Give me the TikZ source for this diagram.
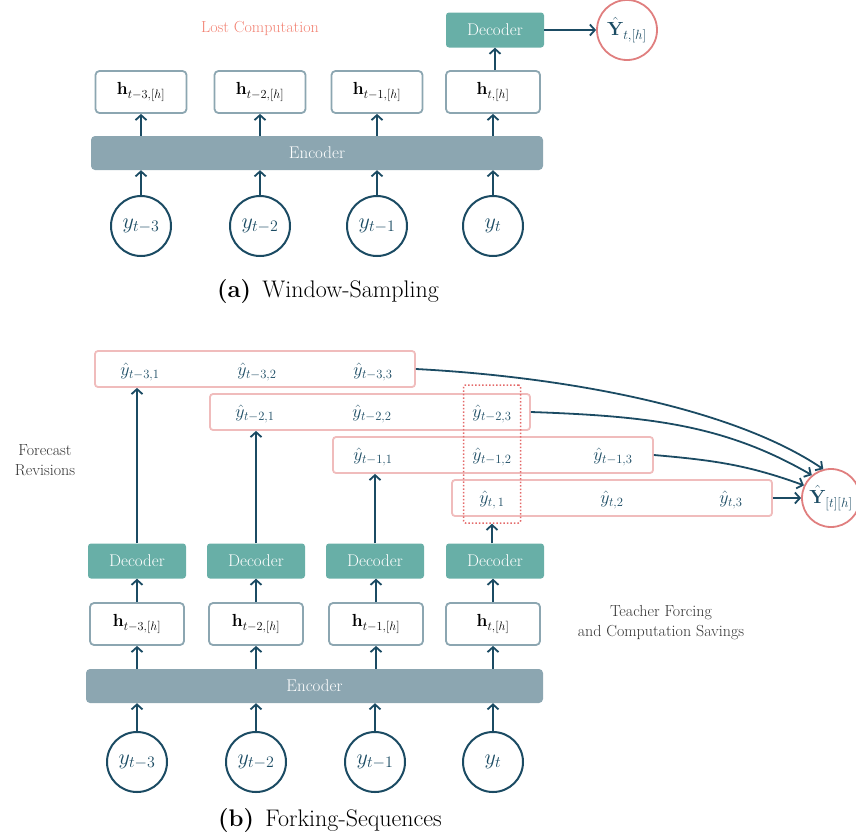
\RequirePackage{fix-cm}
\documentclass[tikz,border=0pt]{standalone}
\usetikzlibrary{arrows.meta,calc}
\DeclareMathSizes{22}{22}{16}{12}
\definecolor{dblue}{HTML}{1B4B63}
\definecolor{tealc}{HTML}{68AFA7}
\definecolor{gblue}{HTML}{8CA6B1}
\definecolor{salmon}{HTML}{F28374}
\definecolor{pinkb}{HTML}{F0BCBC}
\definecolor{redc}{HTML}{E07F7F}
\definecolor{dotred}{HTML}{E46A6A}
\definecolor{dgray}{HTML}{333333}
\tikzset{
  decbox/.style={fill=tealc, rounded corners=3pt, text=white, minimum width=98pt, minimum height=35pt, inner sep=0pt, font=\fontsize{17}{20}\selectfont},
  hbox/.style={draw=gblue, line width=1.8pt, fill=white, rounded corners=4pt, minimum width=91pt, minimum height=42pt, inner sep=0pt, font=\fontsize{17.5}{20}\selectfont},
  encbox/.style={fill=gblue, rounded corners=4pt, text=white, minimum height=34pt, inner sep=0pt, font=\fontsize{17}{20}\selectfont},
  inp/.style={circle, draw=dblue, line width=2pt, minimum size=60pt, inner sep=0pt, text=dblue, font=\fontsize{22}{26}\selectfont},
  outc/.style={circle, draw=redc, line width=1.8pt, minimum size=60pt, inner sep=0pt, text=dblue, font=\fontsize{19}{22}\selectfont},
  arr/.style={draw=dblue, line width=1.8pt, -{Straight Barb[length=5pt,width=11pt]}},
  rowbox/.style={draw=pinkb, line width=1.8pt, rounded corners=3pt, minimum width=320pt, minimum height=36pt, inner sep=0pt},
  yh/.style={text=dblue, font=\fontsize{18}{20}\selectfont, inner sep=0pt},
  side/.style={text=dgray, align=center, font=\fontsize{16}{20}\selectfont},
  capt/.style={font=\fontsize{24}{28}\selectfont},
}
\begin{document}
\begin{tikzpicture}[x=1pt,y=-1pt]
\useasboundingbox (0,0) rectangle (856,838);
% ---------- (a) ----------
\node[text=salmon, font=\fontsize{16}{20}\selectfont] (lost) at (260,28) {Lost Computation};
\node[decbox] (adec) at (495,30) {Decoder};
\node[outc] (aY) at (627,30) {$\hat{\mathbf{Y}}_{t,[h]}$};
\node[hbox] (ah1) at (141,92) {$\mathbf{h}_{t-3,[h]}$};
\node[hbox] (ah2) at (260,92) {$\mathbf{h}_{t-2,[h]}$};
\node[hbox] (ah3) at (377,92) {$\mathbf{h}_{t-1,[h]}$};
\node[hbox, minimum width=94pt] (ah4) at (493,92) {$\mathbf{h}_{t,[h]}$};
\node[encbox, minimum width=452pt] (aenc) at (317,153) {Encoder};
\node[inp] (ay1) at (141,226) {$y_{t-3}$};
\node[inp] (ay2) at (260,226) {$y_{t-2}$};
\node[inp] (ay3) at (377,226) {$y_{t-1}$};
\node[inp] (ay4) at (493,226) {$y_{t}$};
\foreach \i in {1,...,4}{
  \draw[arr] (ay\i.north) -- (ay\i.north |- aenc.south);
  \draw[arr] (aenc.north -| ah\i) -- (ah\i.south);
}
\draw[arr] (ah4.north -| adec) -- (adec.south);
\draw[arr] (adec.east) -- (adec.east -| aY.west);
\node[capt] (capa) at (328,292) {\textbf{(a)}\, Window-Sampling};
% ---------- (b) ----------
\node[rowbox] (r1) at (255,369) {};
\node[rowbox] (r2) at (370,412) {};
\node[rowbox] (r3) at (493,455) {};
\node[rowbox] (r4) at (612,498) {};
\node[yh] at (140,372) {$\hat{y}_{t-3,1}$};
\node[yh] at (257,372) {$\hat{y}_{t-3,2}$};
\node[yh] at (373,372) {$\hat{y}_{t-3,3}$};
\node[yh] at (255,414) {$\hat{y}_{t-2,1}$};
\node[yh] at (372,414) {$\hat{y}_{t-2,2}$};
\node[yh] at (492,414) {$\hat{y}_{t-2,3}$};
\node[yh] at (373,457) {$\hat{y}_{t-1,1}$};
\node[yh] at (492,457) {$\hat{y}_{t-1,2}$};
\node[yh] at (613,457) {$\hat{y}_{t-1,3}$};
\node[yh] at (492,500) {$\hat{y}_{t,\,1}$};
\node[yh] at (612,500) {$\hat{y}_{t,2}$};
\node[yh] at (731,500) {$\hat{y}_{t,3}$};
\node[draw=dotred, dotted, line width=1.5pt, rounded corners=2pt, minimum width=57pt, minimum height=138pt, inner sep=0pt] (dbox) at (492,454) {};
\node[outc, minimum size=58pt] (bY) at (831,498) {$\hat{\mathbf{Y}}_{[t][h]}$};
\draw[arr] (r1.east) to[out=-3, in=146, out distance=145pt, in distance=112pt] (bY.105);
\draw[arr] (r2.east) to[out=-2, in=150, out distance=120pt, in distance=100pt] (bY.130);
\draw[arr] (r3.east) to[out=-5, in=160, out distance=60pt, in distance=60pt] (bY.155);
\draw[arr] (r4.east) -- (r4.east -| bY.west);
\node[side] (fr) at (45,460) {Forecast\\Revisions};
\node[decbox] (bd1) at (137,561) {Decoder};
\node[decbox] (bd2) at (256,561) {Decoder};
\node[decbox] (bd3) at (375,561) {Decoder};
\node[decbox] (bd4) at (495,561) {Decoder};
\node[hbox, minimum width=94pt] (bh1) at (137,624) {$\mathbf{h}_{t-3,[h]}$};
\node[hbox, minimum width=94pt] (bh2) at (256,624) {$\mathbf{h}_{t-2,[h]}$};
\node[hbox, minimum width=94pt] (bh3) at (376,624) {$\mathbf{h}_{t-1,[h]}$};
\node[hbox, minimum width=94pt] (bh4) at (493,624) {$\mathbf{h}_{t,[h]}$};
\node[side] (tf) at (661,623) {Teacher Forcing\\and Computation Savings};
\node[encbox, minimum width=457pt] (benc) at (314.5,686) {Encoder};
\node[inp] (by1) at (137,762) {$y_{t-3}$};
\node[inp] (by2) at (256,762) {$y_{t-2}$};
\node[inp] (by3) at (375,762) {$y_{t-1}$};
\node[inp] (by4) at (493,762) {$y_{t}$};
\foreach \i in {1,...,4}{
  \draw[arr] (by\i.north) -- (by\i.north |- benc.south);
  \draw[arr] (benc.north -| bh\i) -- (bh\i.south);
  \draw[arr] (bh\i.north) -- (bh\i.north |- bd\i.south);
}
\draw[arr] (bd1.north) -- (bd1.north |- r1.south);
\draw[arr] (bd2.north) -- (bd2.north |- r2.south);
\draw[arr] (bd3.north) -- (bd3.north |- r3.south);
\draw[arr] (bd4.north -| dbox) -- (dbox.south);
\node[capt] (capb) at (330,820) {\textbf{(b)}\, Forking-Sequences};
\end{tikzpicture}
\end{document}
